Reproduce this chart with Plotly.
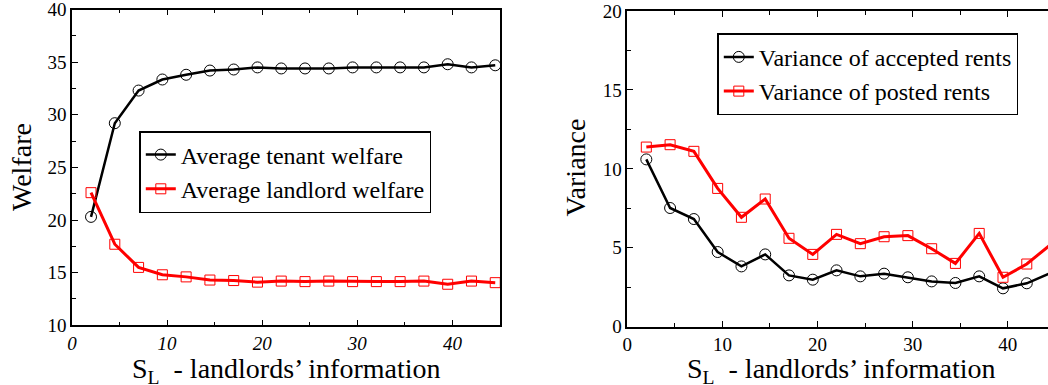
import plotly.graph_objects as go

# ---- data ----
s_l = [2, 4.5, 7, 9.5, 12, 14.5, 17, 19.5, 22, 24.5, 27, 29.5, 32, 34.5, 37, 39.5, 42, 44.5]

tenant_welfare = [20.3, 29.2, 32.3, 33.35, 33.8, 34.2, 34.3, 34.5, 34.4, 34.4, 34.4, 34.5,
                  34.5, 34.5, 34.5, 34.8, 34.5, 34.7]
landlord_welfare = [22.6, 17.7, 15.5, 14.8, 14.6, 14.3, 14.25, 14.1, 14.2, 14.15, 14.2, 14.15,
                    14.15, 14.15, 14.2, 13.9, 14.2, 14.05]

var_accepted = [10.6, 7.52, 6.82, 4.73, 3.82, 4.58, 3.25, 2.98, 3.57, 3.19, 3.36, 3.13,
                2.87, 2.77, 3.19, 2.43, 2.75, 3.4]
var_posted = [11.38, 11.53, 11.11, 8.76, 6.93, 8.09, 5.6, 4.58, 5.85, 5.26, 5.7, 5.77,
              4.94, 4.01, 5.91, 3.13, 3.97, 5.2]

W, H = 1048, 385
FONT = "Liberation Serif"
BLACK = "#000000"
RED = "#ff0000"

fig = go.Figure()

fig.add_trace(go.Scatter(
    x=s_l, y=tenant_welfare, name="Average tenant welfare", mode="lines+markers",
    line=dict(color=BLACK, width=2.5),
    marker=dict(symbol="circle-open", size=11, color=BLACK, line=dict(width=1)),
    xaxis="x", yaxis="y", legend="legend"))
fig.add_trace(go.Scatter(
    x=s_l, y=landlord_welfare, name="Average landlord welfare", mode="lines+markers",
    line=dict(color=RED, width=3),
    marker=dict(symbol="square-open", size=10, color=RED, line=dict(width=1)),
    xaxis="x", yaxis="y", legend="legend"))

fig.add_trace(go.Scatter(
    x=s_l, y=var_accepted, name="Variance of accepted rents", mode="lines+markers",
    line=dict(color=BLACK, width=2.5),
    marker=dict(symbol="circle-open", size=11, color=BLACK, line=dict(width=1)),
    cliponaxis=False,
    xaxis="x2", yaxis="y2", legend="legend2"))
fig.add_trace(go.Scatter(
    x=s_l, y=var_posted, name="Variance of posted rents", mode="lines+markers",
    line=dict(color=RED, width=3),
    marker=dict(symbol="square-open", size=10, color=RED, line=dict(width=1)),
    cliponaxis=False,
    xaxis="x2", yaxis="y2", legend="legend2"))

# panel geometry (pixels)
L_x0, L_x1, L_y0, L_y1 = 72, 500, 9.5, 325.3
R_x0, R_x1, R_y0, R_y1 = 627.3, 1048, 11, 326.7
px_per_unit = (L_x1 - L_x0) / 45.0
R_xmax = (R_x1 - R_x0) / px_per_unit

TICKFONT = dict(family=FONT, size=19, color=BLACK)
axis_common = dict(
    showline=True, linecolor=BLACK, linewidth=1.5, showgrid=False, zeroline=False,
    automargin=False, ticklabeloverflow="allow",
    ticks="inside", ticklen=6, tickwidth=1, tickcolor=BLACK,
    tickfont=TICKFONT,
)

fig.update_layout(
    template="none",
    width=W, height=H,
    margin=dict(l=0, r=0, t=0, b=0, autoexpand=False),
    paper_bgcolor="white", plot_bgcolor="white",
    showlegend=True,
    xaxis=dict(axis_common, domain=[L_x0 / W, L_x1 / W], anchor="y", range=[0, 45],
               dtick=10, mirror="ticks",
               tickfont=dict(TICKFONT, style="italic"),
               minor=dict(ticks="inside", ticklen=4, dtick=5, tickcolor=BLACK)),
    yaxis=dict(axis_common, domain=[1 - L_y1 / H, 1 - L_y0 / H], anchor="x", range=[10, 40],
               dtick=5, mirror=True,
               minor=dict(ticks="inside", ticklen=4, dtick=2.5, tickcolor=BLACK)),
    xaxis2=dict(axis_common, domain=[R_x0 / W, 1.0], anchor="y2", range=[0, R_xmax],
                dtick=10, mirror="ticks",
                minor=dict(ticks="inside", ticklen=4, dtick=5, tickcolor=BLACK)),
    yaxis2=dict(axis_common, domain=[1 - R_y1 / H, 1 - R_y0 / H], anchor="x2", range=[0, 20],
                dtick=5, mirror=False,
                minor=dict(ticks="inside", ticklen=4, dtick=2.5, tickcolor=BLACK)),
    legend=dict(x=139.3 / W, y=1 - 131 / H, xanchor="left", yanchor="top",
                bgcolor="white", bordercolor=BLACK, borderwidth=1.5,
                font=dict(family=FONT, size=24, color=BLACK),
                itemwidth=30, tracegroupgap=0),
    legend2=dict(x=717.3 / W, y=1 - 33.3 / H, xanchor="left", yanchor="top",
                 bgcolor="white", bordercolor=BLACK, borderwidth=1.5,
                 font=dict(family=FONT, size=24, color=BLACK),
                 itemwidth=30, tracegroupgap=0),
)

xtitle = "S<sub>L</sub>  - landlords\u2019 information"
annots = [
    dict(text="Welfare", x=21 / W, y=1 - 167 / H, textangle=-90),
    dict(text="Variance", x=575.5 / W, y=1 - 168 / H, textangle=-90),
    dict(text=xtitle, x=286 / W, y=1 - 370 / H),
    dict(text=xtitle, x=841.5 / W, y=1 - 370 / H),
]
for a in annots:
    fig.add_annotation(xref="paper", yref="paper", xanchor="center", yanchor="middle",
                       showarrow=False, font=dict(family=FONT, size=28, color=BLACK), **a)

fig.write_html("out.html", config={"displayModeBar": False},
               post_script="document.body.style.margin='0';")
